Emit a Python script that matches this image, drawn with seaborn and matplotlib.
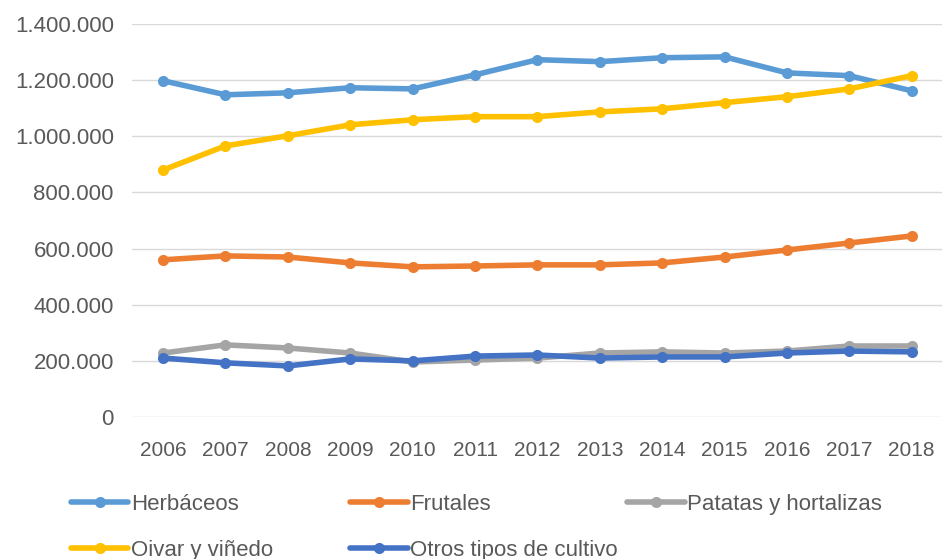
import matplotlib
matplotlib.use("Agg")
import matplotlib.pyplot as plt
import matplotlib.ticker as ticker
import pandas as pd
import seaborn as sns

# ── Data ──────────────────────────────────────────────────────────────────────

YEARS = [2006, 2007, 2008, 2009, 2010, 2011, 2012, 2013, 2014, 2015, 2016, 2017, 2018]

HERBACEOS = [1198000, 1148000, 1155000, 1173000, 1169000, 1219000, 1273000,
             1266000, 1280000, 1283000, 1226000, 1216000, 1162000]
FRUTALES = [560000, 574000, 570000, 549000, 535000, 538000, 542000,
            542000, 549000, 570000, 595000, 620000, 645000]
PATATAS = [228000, 257000, 246000, 228000, 196000, 203000, 210000,
           228000, 232000, 228000, 235000, 253000, 253000]
OLIVAR = [880000, 966000, 1002000, 1041000, 1059000, 1070000, 1070000,
          1087000, 1098000, 1120000, 1141000, 1169000, 1216000]
OTROS = [210000, 193000, 182000, 207000, 200000, 217000, 221000,
         210000, 214000, 214000, 228000, 235000, 232000]

SERIES = {
    "Herbáceos": HERBACEOS,
    "Frutales": FRUTALES,
    "Patatas y hortalizas": PATATAS,
    "Oivar y viñedo": OLIVAR,
    "Otros tipos de cultivo": OTROS,
}
COLORS = {
    "Herbáceos": "#5B9BD5",
    "Frutales": "#ED7D31",
    "Patatas y hortalizas": "#A5A5A5",
    "Oivar y viñedo": "#FFC000",
    "Otros tipos de cultivo": "#4472C4",
}

rows = []
for name, vals in SERIES.items():
    for i, v in enumerate(vals):
        rows.append({"pos": i, "year": YEARS[i], "serie": name, "valor": v})
df = pd.DataFrame(rows)

# ── Style ─────────────────────────────────────────────────────────────────────

sns.set_theme(style="white")
plt.rcParams["font.family"] = ["Liberation Sans", "DejaVu Sans"]
TXT = "#595959"

fig = plt.figure(figsize=(9.42, 5.59), dpi=100)
ax = fig.add_axes([0.140, 0.254, 0.861, 0.703])

sns.lineplot(data=df, x="pos", y="valor", hue="serie", palette=COLORS,
             hue_order=list(SERIES.keys()), marker="o", markersize=8,
             markeredgewidth=0, linewidth=4, ax=ax, legend=True, clip_on=False)

ax.set_xlim(-0.5, len(YEARS) - 0.5)
ax.set_ylim(0, 1400000)
ax.set_xticks(range(len(YEARS)))
ax.set_xticklabels([str(y) for y in YEARS])
ax.yaxis.set_major_locator(ticker.MultipleLocator(200000))
ax.yaxis.set_major_formatter(ticker.FuncFormatter(lambda v, p: f"{int(v):,}".replace(",", ".")))
ax.grid(axis="y", color="#D9D9D9", linewidth=1)
ax.set_axisbelow(True)
for s in ax.spines.values():
    s.set_visible(False)
ax.tick_params(axis="x", length=0, labelsize=15, colors=TXT, pad=17)
ax.tick_params(axis="y", length=0, labelsize=16, colors=TXT, pad=13)
ax.set_xlabel("")
ax.set_ylabel("")

# legend: three columns at fixed positions, like the Excel layout
handles, labels = ax.get_legend_handles_labels()
ax.get_legend().remove()
lookup = dict(zip(labels, handles))
columns = [
    (0.075, ["Herbáceos", "Oivar y viñedo"]),
    (0.372, ["Frutales", "Otros tipos de cultivo"]),
    (0.666, ["Patatas y hortalizas"]),
]
for x0, names in columns:
    fig.legend([lookup[n] for n in names], names, loc="upper left",
               bbox_to_anchor=(x0, 0.116), frameon=False, fontsize=16,
               labelcolor=TXT, handlelength=2.6, handletextpad=0.1,
               labelspacing=1.1, borderaxespad=0, borderpad=0)

fig.savefig("out.png", dpi=100)
